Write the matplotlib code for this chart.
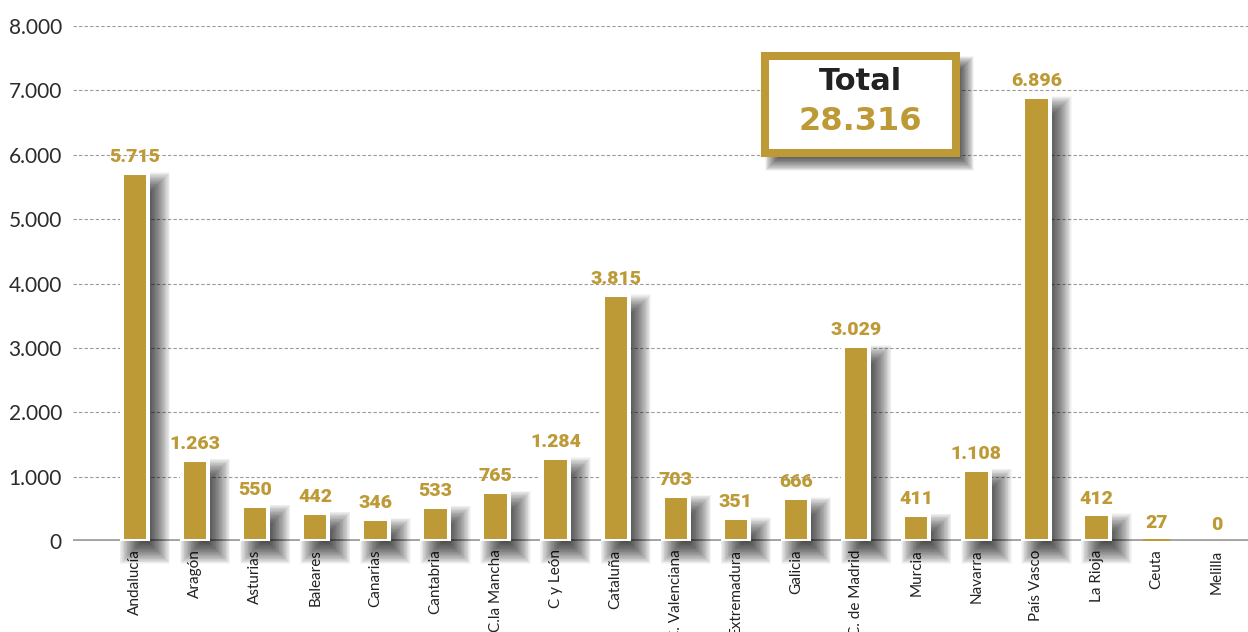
import matplotlib
matplotlib.use("Agg")
import matplotlib.pyplot as plt
from matplotlib.patches import Rectangle
from matplotlib.ticker import FuncFormatter, MultipleLocator

regions = ["Andalucía", "Aragón", "Asturias", "Baleares", "Canarias", "Cantabria",
           "C.la Mancha", "C y León", "Cataluña", "C. Valenciana", "Extremadura",
           "Galicia", "C. de Madrid", "Murcia", "Navarra", "País Vasco", "La Rioja",
           "Ceuta", "Melilla"]
values = [5715, 1263, 550, 442, 346, 533, 765, 1284, 3815, 703, 351, 666, 3029,
          411, 1108, 6896, 412, 27, 0]

GOLD = "#BD9A36"
W, H = 1248, 632


def thousands(v, pos=None):
    return f"{int(v):,}".replace(",", ".")


def soft_shadow(ax, x0, y0, w, h, transform, ux, uy, dx=10, dy=11, blur=12,
                layers=32, alpha=0.036, zorder=2.5):
    # stacked translucent rectangles, shrinking to growing, fake a blurred drop shadow
    for i in range(layers):
        g = -blur + 2 * blur * i / (layers - 1)
        ww = w + 2 * g * ux
        hh = h + 2 * g * uy
        if ww <= 0 or hh <= 0:
            continue
        ax.add_patch(Rectangle((x0 + dx * ux - g * ux, y0 - dy * uy - g * uy), ww, hh,
                               transform=transform, facecolor="black", edgecolor="none",
                               alpha=alpha, zorder=zorder, clip_on=False))


fig = plt.figure(figsize=(W / 100, H / 100), dpi=100)
ax_l, ax_b, ax_w, ax_h = 73, 91, 1175, 515
ax = fig.add_axes([ax_l / W, ax_b / H, ax_w / W, ax_h / H])

x = list(range(len(regions)))
xlim = (-1.03, 18.52)
ylim = (0, 8000)
ax.set_xlim(*xlim)
ax.set_ylim(*ylim)

# data units per pixel
ux = (xlim[1] - xlim[0]) / ax_w
uy = (ylim[1] - ylim[0]) / ax_h

bar_w = 0.44
for xi, v in zip(x, values):
    if v > 50:
        soft_shadow(ax, xi - bar_w / 2, 0, bar_w, v, ax.transData, ux, uy)

ax.bar(x, values, width=bar_w, color=GOLD,
       edgecolor=["white" if v > 50 else GOLD for v in values],
       linewidth=[2.9 if v > 50 else 0 for v in values], zorder=3)

ax.axhline(0, color="#A3A3A3", lw=3.5, zorder=2)

for xi, v in zip(x, values):
    ax.annotate(thousands(v), (xi, v), xytext=(0, 5), textcoords="offset points",
                ha="center", va="bottom", fontsize=14, fontweight="black",
                fontfamily="Roboto", color=GOLD, zorder=4)

ax.yaxis.set_major_locator(MultipleLocator(1000))
ax.yaxis.set_major_formatter(FuncFormatter(thousands))
ax.yaxis.grid(True, linestyle=(0, (3, 2)), color="#9A9A9A", lw=0.8, zorder=0)
ax.set_axisbelow(True)
ax.tick_params(axis="y", length=0, pad=8, labelsize=15, labelcolor="#2B2B2B")
ax.tick_params(axis="x", length=0, pad=6)
ax.set_xticks(x)
ax.set_xticklabels(regions, rotation=90, fontsize=11, color="#222222",
                   fontfamily="Lato")
for lab in ax.get_yticklabels():
    lab.set_fontfamily("Lato")
for s in ax.spines.values():
    s.set_visible(False)

# total box
bx0, bx1 = (765 - ax_l) / ax_w, (956 - ax_l) / ax_w
by1, by0 = (541 - 56) / ax_h, (541 - 153) / ax_h
soft_shadow(ax, bx0, by0, bx1 - bx0, by1 - by0, ax.transAxes, 1 / ax_w, 1 / ax_h,
            dx=9, dy=9, blur=9, zorder=5)
ax.add_patch(Rectangle((bx0, by0), bx1 - bx0, by1 - by0, transform=ax.transAxes,
                       facecolor="white", edgecolor=GOLD, lw=5.8, zorder=6,
                       clip_on=False))
cx = (bx0 + bx1) / 2
ax.text(cx, (541 - 82) / ax_h, "Total", transform=ax.transAxes, ha="center",
        va="center", fontsize=22, fontweight="bold", fontfamily="DejaVu Sans",
        color="#222222", zorder=7)
ax.text(cx, (541 - 121) / ax_h, thousands(sum(values)), transform=ax.transAxes,
        ha="center", va="center", fontsize=23, fontweight="bold",
        fontfamily="DejaVu Sans", color=GOLD, zorder=7)

fig.savefig("out.png", dpi=100)
